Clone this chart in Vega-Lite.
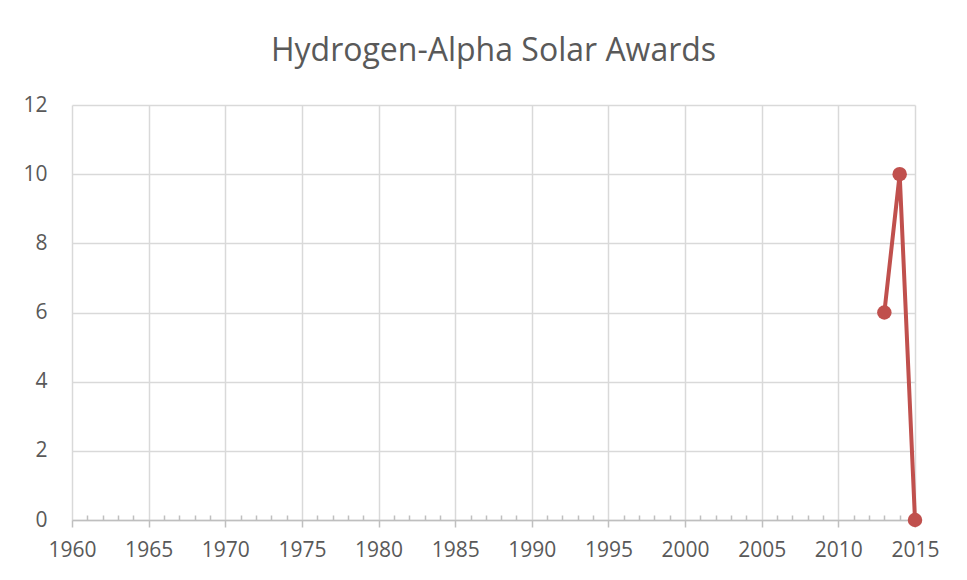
{
  "$schema": "https://vega.github.io/schema/vega-lite/v6.json",
  "autosize": "none",
  "width": 843,
  "height": 415,
  "padding": {"left": 72, "top": 105, "right": 52, "bottom": 60},
  "background": "white",
  "title": {
    "text": "Hydrogen-Alpha Solar Awards",
    "font": "Open Sans",
    "fontSize": 32,
    "fontWeight": "normal",
    "color": "#595959",
    "anchor": "middle",
    "offset": 26
  },
  "data": {
    "values": [
      {"year": 2013, "awards": 6},
      {"year": 2014, "awards": 10},
      {"year": 2015, "awards": 0}
    ]
  },
  "config": {
    "view": {"stroke": null},
    "axis": {
      "labelFont": "Open Sans",
      "labelFontSize": 21,
      "labelColor": "#595959",
      "gridColor": "#d9d9d9",
      "gridWidth": 1.5,
      "title": null
    }
  },
  "layer": [
    {
      "mark": {"type": "line", "color": "#c0504d", "strokeWidth": 4},
      "encoding": {
        "x": {
          "field": "year",
          "type": "quantitative",
          "scale": {"domain": [1960, 2015], "nice": false, "zero": false},
          "axis": {
            "values": [1960, 1965, 1970, 1975, 1980, 1985, 1990, 1995, 2000, 2005, 2010, 2015],
            "format": "d",
            "grid": true,
            "domainColor": "#bfbfbf",
            "domainWidth": 1.5,
            "tickColor": "#bfbfbf",
            "tickWidth": 1.5,
            "tickSize": 7,
            "labelPadding": 12,
            "labelFlush": false
          }
        },
        "y": {
          "field": "awards",
          "type": "quantitative",
          "scale": {"domain": [0, 12], "nice": false},
          "axis": {
            "values": [0, 2, 4, 6, 8, 10, 12],
            "grid": true,
            "domain": false,
            "ticks": false,
            "labelPadding": 25
          }
        }
      }
    },
    {
      "mark": {"type": "point", "filled": true, "color": "#c0504d", "size": 210, "opacity": 1},
      "encoding": {
        "x": {
          "field": "year",
          "type": "quantitative",
          "axis": {
            "orient": "bottom",
            "values": [1961, 1962, 1963, 1964, 1966, 1967, 1968, 1969, 1971, 1972, 1973, 1974, 1976, 1977, 1978, 1979, 1981, 1982, 1983, 1984, 1986, 1987, 1988, 1989, 1991, 1992, 1993, 1994, 1996, 1997, 1998, 1999, 2001, 2002, 2003, 2004, 2006, 2007, 2008, 2009, 2011, 2012, 2013, 2014],
            "labels": false,
            "grid": false,
            "domain": false,
            "tickColor": "#bfbfbf",
            "tickWidth": 1.5,
            "tickSize": -5
          }
        },
        "y": {"field": "awards", "type": "quantitative"}
      }
    }
  ],
  "resolve": {"axis": {"x": "independent"}}
}
